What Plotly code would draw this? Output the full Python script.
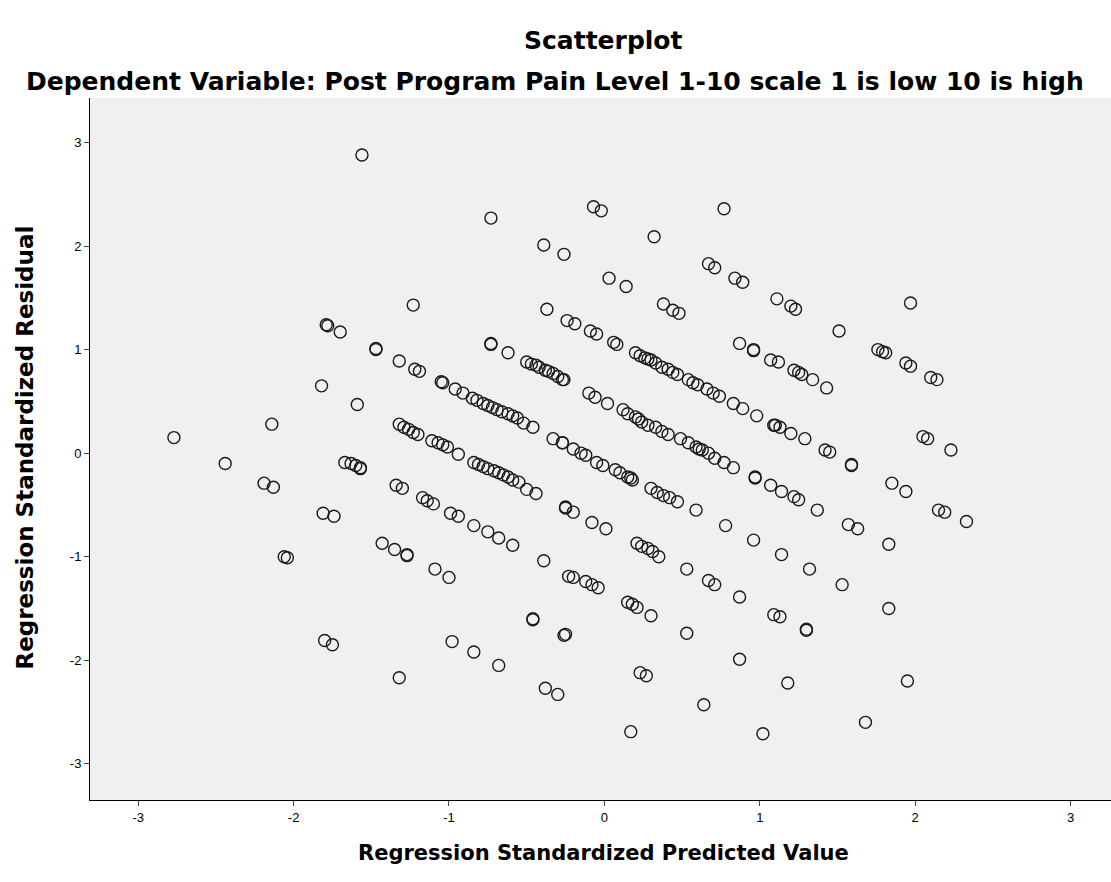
import plotly.graph_objects as go

# Regression standardized predicted value (x) and standardized residual (y)
pred = [
    -1.56, -0.73, -0.07, -0.02, 0.77, -0.39, -0.26, 0.32, 0.03, 0.14,
    0.67, 0.71, 0.84, 0.89, -1.23, -0.37, 0.38, 0.44, 0.48, 1.11,
    1.20, 1.23, 1.97, 1.51, -1.79, -1.78, -1.70,
    -1.82, -1.59, -2.14, -2.77, -2.44, -2.19, -2.13, -1.81, -1.74,
    -1.67, -1.63, -1.60, -1.57, -1.57,
    -2.06, -2.04, -1.80, -1.75,
    -1.47, -1.47, -1.32, -1.22, -1.19, -0.73, -0.73, -0.62,
    -0.50, -0.47, -0.44, -0.42, -0.38, -0.36, -0.33, -0.30, -0.27,
    -1.05, -1.04, -0.96, -0.91,
    -0.85, -0.82, -0.78, -0.75, -0.72, -0.69, -0.66, -0.62, -0.59, -0.56, -0.52, -0.46,
    -1.32, -1.29, -1.26, -1.23, -1.20,
    -1.11, -1.07, -1.04, -1.01, -0.94,
    -0.84, -0.81, -0.78, -0.75, -0.71, -0.68, -0.65, -0.62, -0.59, -0.55, -0.50, -0.44,
    -0.33, -0.27, -1.34, -1.30, -1.17, -1.14, -1.10, -0.99, -0.94,
    -0.25, -0.84, -0.75, -0.68, -0.59, -1.43, -1.35, -1.27, -1.27,
    -1.09, -1.00, -0.39, -0.23, -0.20, -0.46, -0.46, -0.26, -0.98, -0.84, -0.68,
    -1.32, -0.38, -0.30,
    -0.24, -0.19, -0.09, -0.05, 0.06, 0.08,
    0.20, 0.23, 0.26, 0.28, 0.30, 0.33, 0.37, 0.41, 0.44, 0.47,
    0.54, 0.57, 0.60, 0.66, 0.70, 0.74, 0.83, 0.89, 0.87, 0.96, 0.96, 1.07,
    -0.26, -0.10, -0.06, 0.02,
    0.12, 0.15, 0.20, 0.22, 0.24, 0.28, 0.33, 0.37, 0.41,
    0.49, 0.54, 0.59, 0.61, 0.63, 0.67, 0.71, 0.77, 0.83,
    0.98, 0.97, 0.97, 1.09, 1.07, -0.27,
    -0.20, -0.15, -0.12, -0.05, -0.01,
    0.07, 0.10, 0.15, 0.17, 0.18,
    0.30, 0.34, 0.38, 0.42, 0.47, 0.59, -0.25, -0.20, -0.08, 0.01,
    0.21, 0.24, 0.28, 0.31, 0.35, 0.53, 0.78, 0.96,
    0.67, 0.71, 0.87, 1.09,
    -0.12, -0.08, -0.04,
    0.15, 0.18, 0.21, 0.30, -0.25, 0.53, 0.87, 0.23, 0.27, 0.64, 0.17, 1.02,
    1.37, 1.57, 1.63, 1.83, 2.15, 2.19, 2.33, 1.14, 1.32, 1.53,
    1.13, 1.30, 1.30, 1.83, 1.18, 1.95, 1.68,
    1.76, 1.79, 1.81, 1.94, 1.97, 2.10, 2.14,
    1.12, 1.22, 1.25, 1.27, 1.34, 1.43,
    1.10, 1.13, 1.20, 1.29, 1.42, 1.45, 1.59, 1.59, 2.05, 2.08, 2.23,
    1.14, 1.22, 1.25, 1.85, 1.94,
]
resid = [
    2.88, 2.27, 2.38, 2.34, 2.36, 2.01, 1.92, 2.09, 1.69, 1.61,
    1.83, 1.79, 1.69, 1.65, 1.43, 1.39, 1.44, 1.38, 1.35, 1.49,
    1.42, 1.39, 1.45, 1.18, 1.24, 1.23, 1.17,
    0.65, 0.47, 0.28, 0.15, -0.10, -0.29, -0.33, -0.58, -0.61,
    -0.09, -0.10, -0.12, -0.14, -0.15,
    -1.00, -1.01, -1.81, -1.85,
    1.00, 1.01, 0.89, 0.81, 0.79, 1.05, 1.06, 0.97,
    0.88, 0.86, 0.85, 0.83, 0.80, 0.79, 0.77, 0.74, 0.71,
    0.69, 0.68, 0.62, 0.58,
    0.53, 0.51, 0.48, 0.46, 0.44, 0.42, 0.40, 0.38, 0.36, 0.34, 0.29, 0.25,
    0.28, 0.25, 0.23, 0.20, 0.18,
    0.12, 0.10, 0.08, 0.06, -0.01,
    -0.09, -0.11, -0.13, -0.15, -0.17, -0.19, -0.21, -0.23, -0.26, -0.28, -0.35, -0.39,
    0.14, 0.10, -0.31, -0.34, -0.43, -0.46, -0.49, -0.58, -0.61,
    -0.53, -0.70, -0.76, -0.82, -0.89, -0.87, -0.93, -0.99, -0.98,
    -1.12, -1.20, -1.04, -1.19, -1.20, -1.60, -1.61, -1.76, -1.82, -1.92, -2.05,
    -2.17, -2.27, -2.33,
    1.28, 1.25, 1.18, 1.15, 1.07, 1.05,
    0.97, 0.94, 0.92, 0.91, 0.90, 0.87, 0.83, 0.81, 0.78, 0.76,
    0.71, 0.68, 0.66, 0.62, 0.58, 0.55, 0.48, 0.43, 1.06, 0.99, 1.00, 0.90,
    0.71, 0.58, 0.54, 0.48,
    0.42, 0.38, 0.35, 0.33, 0.30, 0.27, 0.25, 0.21, 0.18,
    0.14, 0.10, 0.06, 0.04, 0.03, 0.00, -0.05, -0.09, -0.14,
    0.36, -0.23, -0.24, 0.27, -0.31, 0.10,
    0.04, 0.00, -0.02, -0.09, -0.12,
    -0.16, -0.19, -0.23, -0.24, -0.26,
    -0.34, -0.38, -0.41, -0.43, -0.47, -0.55, -0.52, -0.57, -0.67, -0.73,
    -0.87, -0.90, -0.92, -0.95, -1.00, -1.12, -0.70, -0.84,
    -1.23, -1.27, -1.39, -1.56,
    -1.24, -1.27, -1.30,
    -1.44, -1.46, -1.49, -1.57, -1.75, -1.74, -1.99, -2.12, -2.15, -2.43, -2.69, -2.71,
    -0.55, -0.69, -0.73, -0.88, -0.55, -0.57, -0.66, -0.98, -1.12, -1.27,
    -1.58, -1.70, -1.71, -1.50, -2.22, -2.20, -2.60,
    1.00, 0.98, 0.97, 0.87, 0.84, 0.73, 0.71,
    0.88, 0.80, 0.78, 0.76, 0.71, 0.63,
    0.27, 0.25, 0.19, 0.14, 0.03, 0.01, -0.11, -0.12, 0.16, 0.14, 0.03,
    -0.37, -0.42, -0.45, -0.29, -0.37,
]

x_ticks = [-3, -2, -1, 0, 1, 2, 3]
x_tick_labels = ["-3", "-2", "-1", "0", "1", "2", "3"]
y_ticks = [-3, -2, -1, 0, 1, 2, 3]
y_tick_labels = ["-3", "-2", "-1", "0", "1", "2", "3"]

title_1 = "Scatterplot"
title_2 = "Dependent Variable: Post Program Pain Level 1-10 scale 1 is low 10 is high"
x_title = "Regression Standardized Predicted Value"
y_title = "Regression Standardized Residual"

TITLE_FONT = "DejaVu Sans, Verdana, sans-serif"
TICK_FONT = "Liberation Sans, Arial, sans-serif"

fig = go.Figure()
fig.add_trace(go.Scatter(
    x=pred, y=resid, mode="markers",
    marker=dict(symbol="circle-open", size=12, color="#1a1a1a",
                line=dict(width=1.4, color="#1a1a1a")),
    hoverinfo="x+y", showlegend=False,
))

fig.update_layout(
    width=1111, height=882,
    margin=dict(l=90, r=0, t=98, b=82),
    paper_bgcolor="white",
    plot_bgcolor="#f0f0f0",
    font=dict(family=TICK_FONT, color="black", size=12),
    xaxis=dict(range=[-3.31, 3.26], tickvals=x_ticks, ticktext=x_tick_labels,
               ticks="outside", ticklen=5,
               showgrid=False, zeroline=False, showline=True, linecolor="black",
               linewidth=1, tickfont=dict(size=13)),
    yaxis=dict(range=[-3.35, 3.43], tickvals=y_ticks, ticktext=y_tick_labels,
               ticks="outside", ticklen=5,
               showgrid=False, zeroline=False, showline=True, linecolor="black",
               linewidth=1, tickfont=dict(size=13)),
    annotations=[
        dict(text="<b>%s</b>" % title_1, x=0.503, y=1.0826, xref="paper", yref="paper",
             xanchor="center", yanchor="middle", showarrow=False,
             font=dict(size=25, family=TITLE_FONT)),
        dict(text="<b>%s</b>" % title_2, x=0.455, y=1.0228, xref="paper", yref="paper",
             xanchor="center", yanchor="middle", showarrow=False,
             font=dict(size=25, family=TITLE_FONT)),
        dict(text="<b>%s</b>" % x_title, x=0.503, y=-0.0755, xref="paper", yref="paper",
             xanchor="center", yanchor="middle", showarrow=False,
             font=dict(size=21, family=TITLE_FONT)),
        dict(text="<b>%s</b>" % y_title, x=-0.0637, y=0.502, xref="paper", yref="paper",
             xanchor="center", yanchor="middle", showarrow=False, textangle=-90,
             font=dict(size=23, family=TITLE_FONT)),
    ],
)

fig.write_html("out.html")
